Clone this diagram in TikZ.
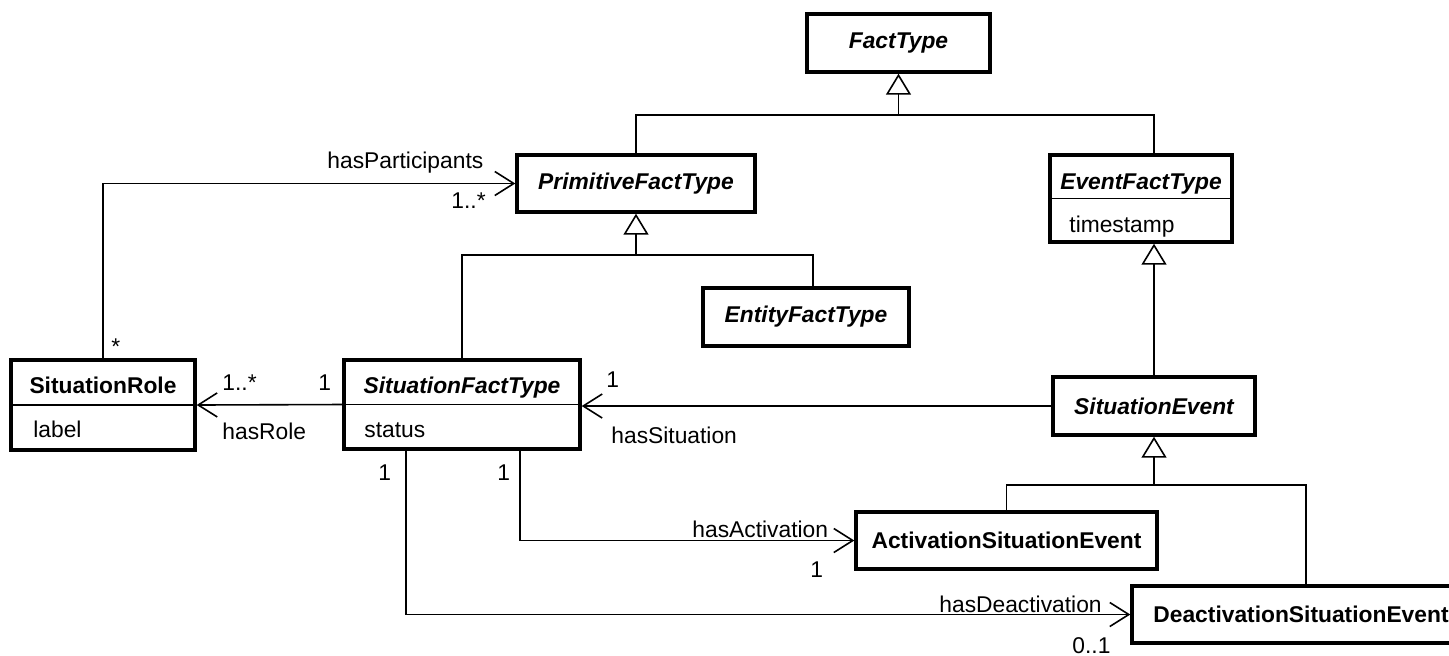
\documentclass[tikz,border=0pt]{standalone}
\usepackage{fontspec}
\setmainfont{Liberation Sans}
\usetikzlibrary{arrows.meta,calc}
\begin{document}
\begin{tikzpicture}[x=0.5pt,y=-0.5pt,
  txt/.style={font=\fontsize{11.4}{13.7}\selectfont, inner sep=0pt},
  cls/.style 2 args={draw, line width=1.7pt, inner sep=0pt, minimum width=#1, minimum height=#2, font=\fontsize{11.4}{13.7}\selectfont\bfseries},
  boldtxt/.style={font=\fontsize{11.4}{13.7}\selectfont\bfseries},
  abstractcls/.style={font=\fontsize{11.4}{13.7}\selectfont\bfseries\itshape},
  conn/.style={line width=0.8pt},
  divider/.style={line width=0.8pt},
  gen/.style={conn, -{Triangle[open, length=10.5pt, width=12.5pt]}},
  assoc/.style={conn, -{Straight Barb[length=9.5pt, width=12pt]}},
  lbl/.style={txt, anchor=base west}]
\useasboundingbox (0,0) rectangle (1449,655);

% classes
\node[cls={91.5pt}{29pt}, abstractcls] (ft) at (898.5,43) {FactType};
\node[cls={119pt}{28.5pt}, abstractcls] (pft) at (636,183.5) {PrimitiveFactType};
\node[cls={91pt}{43.5pt}] (eft) at (1141,198.5) {};
\node[txt, abstractcls, anchor=base, inner sep=0pt] (eftT) at (1141,189) {EventFactType};
\node[lbl] (eftA) at (1069,232) {timestamp};
\draw[divider] (eft.west) -- (eft.east);
\node[cls={103pt}{29pt}, abstractcls] (ent) at (806,317) {EntityFactType};
\node[cls={92pt}{45pt}] (sr) at (103,405) {};
\node[txt, boldtxt, anchor=base, inner sep=0pt] (srT) at (103,393) {SituationRole};
\node[lbl] (srA) at (33,437) {label};
\draw[divider] (sr.west) -- (sr.east);
\node[cls={118pt}{44.5pt}] (sft) at (462,404.5) {};
\node[txt, abstractcls, anchor=base, inner sep=0pt] (sftT) at (462,393) {SituationFactType};
\node[lbl] (sftA) at (364,437) {status};
\draw[divider] (sft.west) -- (sft.east);
\node[cls={101pt}{29pt}, abstractcls] (se) at (1154,406) {SituationEvent};
\node[cls={150.5pt}{28.5pt}] (ase) at (1006.5,540.5) {ActivationSituationEvent};
\node[cls={169pt}{28.5pt}] (dse) at (1301,614.5) {DeactivationSituationEvent};

% generalizations
\coordinate (j1) at (898.5,115);
\draw[conn] (pft.north) |- (j1);
\draw[conn] (eft.north -| se.north) |- (j1);
\draw[gen] (j1) -- (ft.south);

\coordinate (j2) at (636,255);
\draw[conn] (sft.north) |- (j2);
\draw[conn] ([xshift=3.5pt]ent.north) |- (j2);
\draw[gen] (j2) -- (pft.south);

\draw[gen] (se.north) -- (se.north |- eft.south);

\coordinate (j3) at (1154,485);
\draw[conn] (ase.north) |- (j3);
\draw[conn] ([xshift=2.5pt]dse.north) |- (j3);
\draw[gen] (j3) -- (se.south);

% associations
\draw[assoc] (sr.north) |- (pft.west);
\draw[assoc] (sft.west) -- (sr.east);
\draw[assoc] (se.west) -- (se.west -| sft.east);
\draw[assoc] ([xshift=29pt]sft.south) |- (ase.west);
\draw[assoc] ([xshift=-28pt]sft.south) |- (dse.west);

% labels
\node[lbl] (l1) at (327,168) {hasParticipants};
\node[lbl] (l2) at (451,208) {1..*};
\node[lbl] (l3) at (111,354) {*};
\node[lbl] (l4) at (222,390) {1..*};
\node[lbl] (l5) at (318,390) {1};
\node[lbl] (l6) at (222,439) {hasRole};
\node[lbl] (l7) at (606,387) {1};
\node[lbl] (l8) at (611,443) {hasSituation};
\node[lbl] (l9) at (378,480) {1};
\node[lbl] (l10) at (497,480) {1};
\node[lbl] (l11) at (692,537) {hasActivation};
\node[lbl] (l12) at (810,577) {1};
\node[lbl] (l13) at (939,612) {hasDeactivation};
\node[lbl] (l14) at (1072,653) {0..1};
\end{tikzpicture}
\end{document}
